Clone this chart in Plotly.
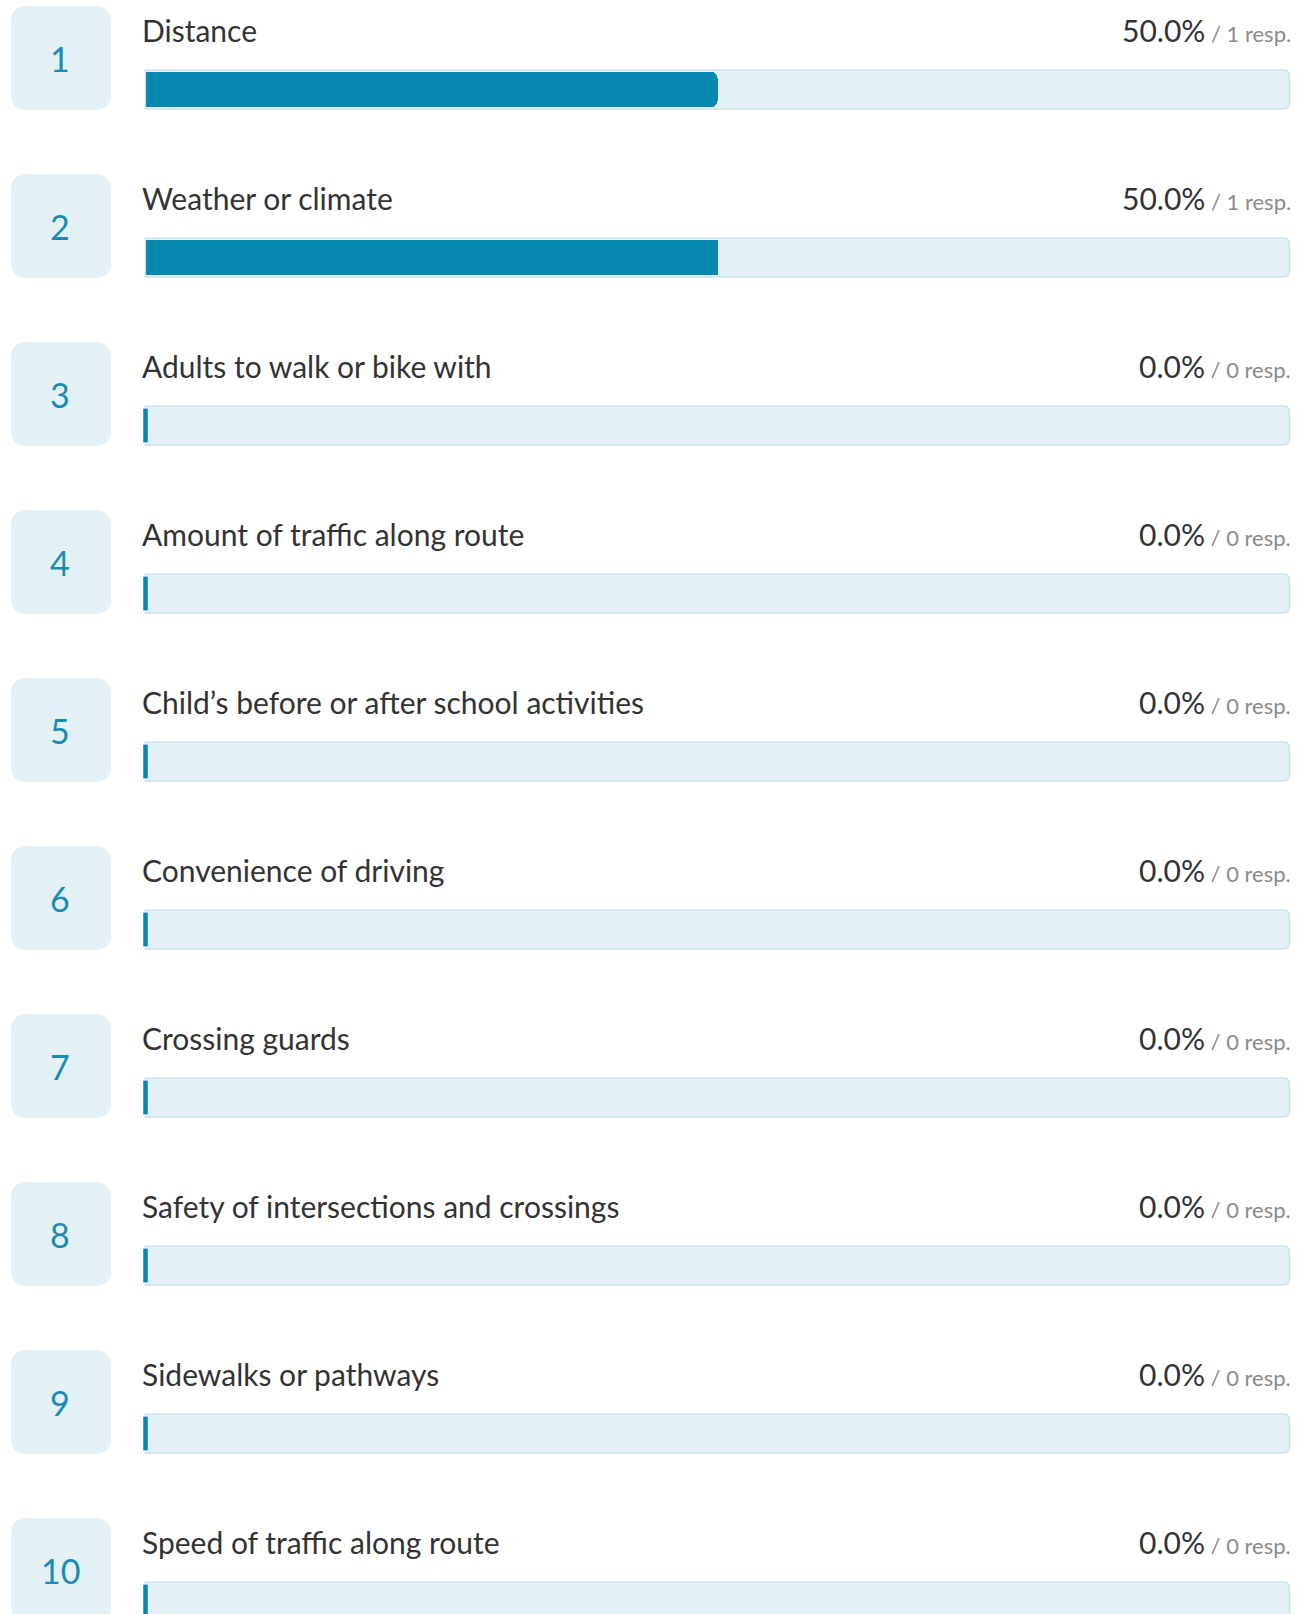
import plotly.graph_objects as go

# ---------------- data ----------------
ranks = [1, 2, 3, 4, 5, 6, 7, 8, 9, 10]
categories = [
    "Distance",
    "Weather or climate",
    "Adults to walk or bike with",
    "Amount of traffic along route",
    "Child\u2019s before or after school activities",
    "Convenience of driving",
    "Crossing guards",
    "Safety of intersections and crossings",
    "Sidewalks or pathways",
    "Speed of traffic along route",
]
percents = [50.0, 50.0, 0.0, 0.0, 0.0, 0.0, 0.0, 0.0, 0.0, 0.0]
responses = [1, 1, 0, 0, 0, 0, 0, 0, 0, 0]

# ---------------- layout constants (pixels) ----------------
W, H = 1303, 1614
PITCH = 168.0          # row pitch
TRACK_CY = 89.5        # track centre of first row
X0_PX, X100_PX = 145.5, 1289.5
PX_PER_UNIT = (X100_PX - X0_PX) / 100.0

FONT = "Lato, 'Source Sans Pro', sans-serif"
TEAL = "#0588b0"
NUM_COL = "#1a8bb3"
LIGHT = "#e3f1f6"
BORDER = "#cbe4ed"
TEXT = "#333333"
GREY = "#8a8a8a"


def xd(px):
    return (px - X0_PX) / PX_PER_UNIT


def yd_off(px_off):
    return px_off / PITCH


rows = list(range(len(categories)))

fig = go.Figure()

# background tracks
fig.add_trace(go.Bar(
    y=rows, x=[100] * len(rows), orientation="h",
    width=39 / PITCH,
    marker=dict(color=LIGHT, line=dict(color=BORDER, width=1.5), cornerradius=6),
    hoverinfo="skip", showlegend=False,
))
# value bars
fig.add_trace(go.Bar(
    y=rows, x=percents, orientation="h",
    width=35 / PITCH,
    marker=dict(color=TEAL, line=dict(width=0), cornerradius=6),
    hoverinfo="skip", showlegend=False,
))
# start marker (shown for zero values)
fig.add_trace(go.Scatter(
    y=rows, x=[0] * len(rows), mode="markers",
    marker=dict(symbol="line-ns", size=24, line=dict(color=TEAL, width=4.5),
                opacity=[1 if p == 0 else 0 for p in percents]),
    hoverinfo="skip", showlegend=False,
))


def rrect(w, h, r):
    x0, x1, y0, y1 = -w / 2, w / 2, -h / 2, h / 2
    return (f"M{x0 + r},{y0} L{x1 - r},{y0} Q{x1},{y0} {x1},{y0 + r} "
            f"L{x1},{y1 - r} Q{x1},{y1} {x1 - r},{y1} L{x0 + r},{y1} "
            f"Q{x0},{y1} {x0},{y1 - r} L{x0},{y0 + r} Q{x0},{y0} {x0 + r},{y0} Z")


shapes = []
annotations = []
for i, (rk, cat, p, n) in enumerate(zip(ranks, categories, percents, responses)):
    # rank box
    shapes.append(dict(
        type="path", xref="x", yref="y",
        xsizemode="pixel", ysizemode="pixel",
        xanchor=xd(61), yanchor=i - yd_off(TRACK_CY - 58),
        path=rrect(100, 104, 16),
        fillcolor=LIGHT, line=dict(width=0), layer="below",
    ))
    annotations.append(dict(
        x=xd(60), y=i - yd_off(TRACK_CY - 58), xref="x", yref="y",
        text=str(rk), showarrow=False, xanchor="center", yanchor="middle",
        font=dict(family=FONT, size=34, color=NUM_COL),
    ))
    annotations.append(dict(
        x=xd(140), y=i - yd_off(TRACK_CY - 30), xref="x", yref="y",
        text=cat, showarrow=False, xanchor="left", yanchor="middle",
        font=dict(family=FONT, size=30, color=TEXT),
    ))
    annotations.append(dict(
        x=xd(1293), y=i - yd_off(TRACK_CY - 30), xref="x", yref="y",
        text=f"{p:.1f}%<span style='font-size:22px;color:{GREY}'> / {n} resp.</span>",
        showarrow=False, xanchor="right", yanchor="middle",
        font=dict(family=FONT, size=30, color=TEXT),
    ))

fig.update_layout(
    width=W, height=H,
    margin=dict(l=0, r=0, t=0, b=0),
    paper_bgcolor="white", plot_bgcolor="white",
    barmode="overlay", bargap=0,
    xaxis=dict(range=[xd(0), xd(W)], visible=False, fixedrange=True),
    yaxis=dict(range=[(H - TRACK_CY) / PITCH, -TRACK_CY / PITCH],
               visible=False, fixedrange=True),
    shapes=shapes, annotations=annotations,
    showlegend=False,
)

fig.write_html(
    "out.html",
    config={"displayModeBar": False, "staticPlot": True},
    post_script="document.body.style.margin='0';document.body.style.overflow='hidden';",
)
